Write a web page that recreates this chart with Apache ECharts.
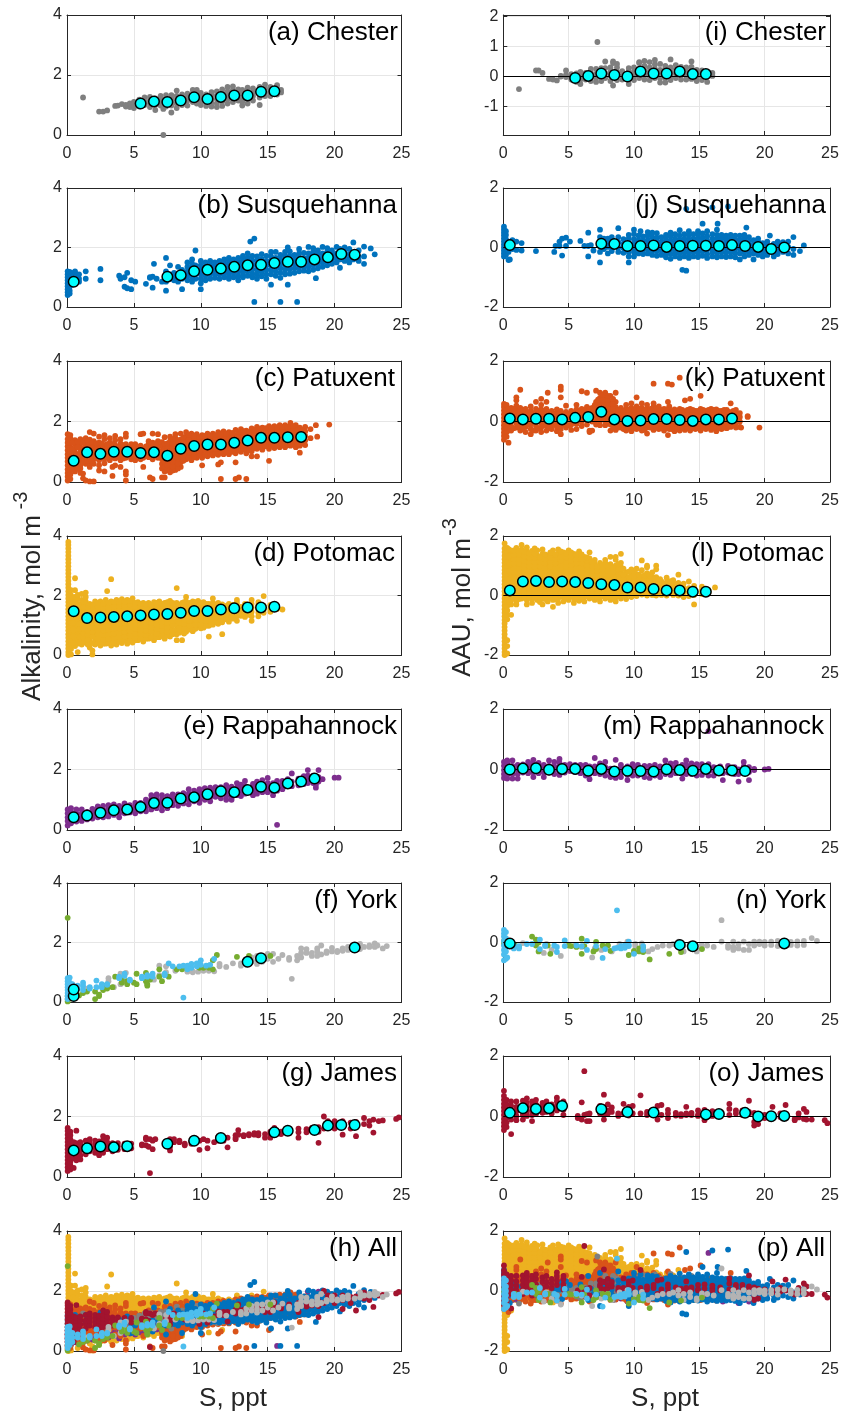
<!DOCTYPE html>
<html><head><meta charset="utf-8">
<style>html,body{margin:0;padding:0;background:#fff}#c{width:843px;height:1414px}</style>
<script src="https://cdn.jsdelivr.net/npm/echarts@6/dist/echarts.min.js"></script></head>
<body><div id="c"></div>
<script>
// Each row: [salinity, [values read at that salinity]]
const chesterAlk=[[1.2,[1.25]],[2.4,[.78]],[2.7,[.78]],[3,[.82]],[3.6,[.97]],[3.8,[.98]],[4.1,[1.03]],[4.4,[.95,1]],[4.7,[.93,1.02,1.05]],[5,[.9,1,1.1]],[5.4,[.95,1.07,1.18]],[5.8,[1,1.1,1.25]],[6.2,[.93,1.05,1.15,1.27]],[6.6,[.83,1,1.12,1.22]],[7,[.98,1.1,1.2,1.3]],[7.2,[0,.87,1.05]],[7.4,[.95,1.08,1.2,1.33]],[7.8,[.75,.98,1.1,1.22,1.33]],[8.2,[.9,1.05,1.17,1.3,1.48]],[8.6,[1,1.12,1.25,1.35]],[9,[.98,1.15,1.27,1.38]],[9.4,[1.1,1.22,1.35,1.5]],[9.7,[1.05,1.2,1.32,1.5]],[10,[1,1.15,1.28,1.4]],[10.4,[.97,1.1,1.22,1.35]],[10.8,[.95,1.08,1.2,1.33,1.43]],[11.2,[.93,1.05,1.2,1.32,1.45]],[11.6,[.97,1.12,1.25,1.4,1.52]],[12,[1.05,1.2,1.33,1.45,1.6]],[12.4,[1.1,1.22,1.36,1.5,1.62]],[12.8,[1.15,1.28,1.4,1.52]],[13.1,[.98,1.1,1.25,1.38,1.5]],[13.5,[1.05,1.2,1.35,1.48,1.58]],[13.9,[1.15,1.3,1.42,1.55]],[14.4,[1.0,1.25,1.37,1.5,1.6]],[14.8,[1.3,1.42,1.55,1.68]],[15.2,[1.3,1.42,1.52,1.6]],[15.7,[1.35,1.45,1.55,1.66]],[16,[1.42,1.5]]];
const chesterAau=[[1.2,[-.42]],[2.5,[.2]],[2.7,[.2]],[3,[.12]],[3.5,[-.08]],[3.8,[-.1]],[4.1,[-.13]],[4.4,[0,.02]],[4.8,[-.02,.05,.2]],[5.2,[-.1,0,.08]],[5.6,[-.18,-.05,.05,.1]],[5.9,[-.25,-.1,.02,.15]],[6.3,[-.1,.02,.12]],[6.7,[-.15,0,.12,.25]],[7.1,[-.18,-.05,.08,.25]],[7.2,[1.15]],[7.5,[-.15,-.02,.1,.28]],[7.8,[-.05,.1,.5,.28]],[8.2,[-.15,.02,.15,.3]],[8.4,[-.3,.45,.5]],[8.7,[-.12,0,.15,.3,.42]],[9.1,[-.1,.03,.18]],[9.6,[-.25,-.1,.05,.18,.28]],[10,[-.12,0,.15,.3]],[10.4,[-.05,.1,.25,.45,.48]],[10.8,[-.1,.05,.2,.35,.52]],[11.2,[-.12,.02,.15,.3,.48]],[11.6,[-.05,.1,.25,.4,.55]],[12,[-.2,-.05,.08,.22,.42]],[12.4,[-.2,-.05,.1,.25,.35]],[12.8,[-.12,.02,.15,.3,.57]],[13.2,[-.05,.1,.25,.38]],[13.6,[-.1,.05,.18,.32]],[14,[-.1,.03,.15,.3]],[14.4,[-.08,.05,.18,.32,.5]],[14.8,[-.15,0,.1,.22]],[15.2,[-.12,0,.1,.2]],[15.6,[-.18,0,.12]],[16,[.02,.12]]];
const chesterMeanS=[5.5,6.5,7.5,8.5,9.5,10.5,11.5,12.5,13.5,14.5,15.5];
const chesterMeanAlk=[1.05,1.12,1.1,1.15,1.26,1.2,1.27,1.32,1.32,1.44,1.46];
const chesterMeanAau=[-.05,.02,.1,.05,0,.17,.1,.1,.17,.08,.08];

const susqAlk=[[.05,[.4,.5,.6,.7,.8,.9,1,1.1,1.2]],[.2,[.45,.55,.68,.8,.92,1.05,1.18]],[.35,[.75,.9,1.02,1.15]],[.6,[.85,1.05,1.2]],[.9,[.85,.95,1.1]],[1.4,[.95,1.2]],[2.5,[.9,1.28]],[3.9,[1.05]],[4,[.95]],[4.3,[1,.68]],[4.5,[.63,1.15]],[4.8,[.9,.6]],[5.1,[.85]],[5.9,[.78]],[6.2,[1,.98]],[6.4,[.65,1.02]],[6.5,[1.45]],[6.7,[.95]],[7.1,[.85]],[7.4,[.85,.55,1.2,1.65]],[7.7,[.95,1.1,1.4]],[8,[.9,1,1.15]],[8.3,[.85,1,1.1,1.35]],[8.6,[.6,.95,1.1,1.25]],[9,[.9,1.05,1.2,1.35,1.5]],[9.35,[.85,1,1.15,1.3,1.45,1.6]],[9.6,[.95,1.1,1.25,1.4,1.9]],[10,[.6,.8,.95,1.1,1.25,1.4,1.55]],[10.35,[.9,1.05,1.2,1.35,1.5]],[10.7,[.95,1.1,1.25,1.4,1.55]],[11.05,[.98,1.12,1.27,1.4,1.5]],[11.4,[.95,1.1,1.25,1.4,1.55]],[11.75,[1,1.15,1.3,1.45,1.6]],[12.1,[.95,1.08,1.22,1.37,1.52,1.65]],[12.45,[1,1.15,1.3,1.45,1.6]],[12.8,[.9,1.05,1.2,1.35,1.5,1.65]],[13.15,[1,1.15,1.28,1.42,1.57,1.72]],[13.5,[1.05,1.2,1.35,1.5,1.65,1.8]],[13.7,[2.2]],[14,[.17,2.3]],[13.85,[1,1.12,1.27,1.42,1.57,1.72]],[14.2,[.95,1.1,1.25,1.4,1.55,1.7]],[14.55,[1.03,1.18,1.33,1.48,1.62,1.78]],[14.9,[.95,1.1,1.25,1.4,1.55,1.72]],[15.25,[.75,1.1,1.25,1.4,1.55,1.7,1.85]],[15.6,[1.05,1.2,1.35,1.5,1.65,1.85]],[15.95,[.17,.98,1.15,1.3,1.45,1.6,1.75]],[16.3,[1.1,1.25,1.4,1.55,1.7,1.85]],[16.5,[.75,2]],[16.65,[1.12,1.27,1.42,1.57,1.72,1.87]],[17,[1.15,1.3,1.45,1.6,1.75]],[17.2,[.17]],[17.35,[1.2,1.35,1.5,1.65,1.8,1.95]],[17.7,[1.22,1.35,1.5,1.65,1.82]],[18.05,[1.2,1.35,1.5,1.65,1.8,2.02]],[18.4,[1.25,1.4,1.55,1.7,1.85,1.98]],[18.6,[.97]],[18.75,[1.3,1.45,1.6,1.75,1.9]],[19.1,[1.35,1.5,1.65,1.8,2.02]],[19.45,[1.4,1.55,1.7,1.85,1.98]],[19.8,[1.45,1.6,1.75,1.9]],[20.15,[1.5,1.65,1.8,2.02]],[20.4,[1.32,1.6,1.95]],[20.75,[1.55,1.7,1.85,2]],[21.1,[1.5,1.62,1.77,1.95]],[21.4,[1.6,1.75,2.17]],[21.8,[1.55,1.68,1.9]],[22.2,[1.45,1.7,2.03]],[22.7,[1.97]],[23,[1.77]]];
const susqAau=[[.05,[-.3,-.2,-.1,0,.1,.2,.3,.4,.5,.6,.7]],[.2,[-.25,-.12,.02,.15,.28,.42,.55]],[.4,[-.42,-.15,.05,.2]],[.5,[-.4]],[.7,[-.05,.1,.25]],[1,[-.08,.2]],[1.4,[.15,-.1]],[2.5,[-.12]],[3.9,[-.15]],[4,[.05]],[4.3,[.2,.05]],[4.5,[.3,-.27]],[4.8,[.33,.05]],[5.1,[.2]],[5.9,[.22]],[6.2,[.05]],[6.5,[.5,-.3,.05]],[6.7,[.08]],[6.9,[-.1]],[7.4,[.6,.35,.18,-.15,-.5]],[7.7,[-.05,.1,.25,.3]],[8,[.02,.18,.3,-.2]],[8.3,[-.12,.05,.2,.35]],[8.8,[.65,.35,.18,0,-.15]],[9.2,[-.18,-.02,.12,.28]],[9.6,[-.5,-.3,-.15,0,.15,.3,.42]],[10,[-.3,-.15,0,.13,.28,.45,.6]],[10.35,[-.2,-.05,.1,.25,.4]],[10.5,[.55]],[10.7,[-.22,-.08,.07,.22,.37]],[11.05,[-.2,-.05,.1,.25,.4,.52]],[11.4,[-.25,-.1,.05,.2,.35,.5]],[11.75,[-.28,-.13,.02,.17,.32,.48]],[12.1,[-.25,-.1,.05,.2,.35]],[12.45,[-.33,-.18,-.03,.12,.27,.42]],[12.8,[-.38,-.22,-.07,.08,.23,.38,.5]],[13.15,[-.3,-.15,0,.15,.3,.45]],[13.5,[-.35,-.2,-.05,.1,.25,.4,.58]],[13.7,[-.75]],[14,[-.78,1.3]],[13.85,[-.3,-.15,0,.15,.3,.45]],[14.2,[-.35,-.2,-.05,.1,.25,.4,.55]],[14.55,[-.3,-.15,0,.15,.3,.45]],[14.9,[-.32,-.18,-.03,.12,.27,.42,.55]],[15.25,[-.28,-.13,.02,.17,.32,.47,.8]],[15.6,[-.35,-.22,-.07,.08,.23,.38,.55]],[16,[-.3,-.15,0,.15,.3,.45,1.35]],[16.35,[-.33,-.18,-.03,.12,.27,.42,.6]],[16.4,[.8]],[16.7,[-.3,-.15,0,.15,.3,.42]],[17.05,[-.32,-.17,-.02,.13,.28,.4]],[17.2,[1.38]],[17.4,[-.3,-.15,0,.15,.3,.42]],[17.75,[-.33,-.18,-.03,.12,.27,.4]],[18.1,[-.4,-.2,-.05,.1,.25,.4]],[18.45,[-.3,-.15,0,.15,.3,.42]],[18.6,[.67]],[18.8,[-.25,-.1,.05,.2,.35]],[19.15,[-.4,-.2,-.05,.1,.25]],[19.5,[-.25,-.1,.05,.2,.3]],[19.85,[-.3,-.15,0,.15]],[20.2,[-.25,-.1,.05,.2]],[20.4,[.4]],[20.7,[-.3,-.15,-.02,.12]],[21,[-.22,-.08,.1,.2]],[21.4,[-.15,.05,.18]],[21.8,[-.2,.02,.2]],[22.2,[-.25,-.05,.35]],[22.7,[-.12]],[23,[.07]]];
const susqMeanS=[.5,7.5,8.5,9.5,10.5,11.5,12.5,13.5,14.5,15.5,16.5,17.5,18.5,19.5,20.5,21.5];
const susqMeanAlk=[.85,1.02,1.07,1.2,1.25,1.29,1.35,1.4,1.42,1.48,1.52,1.52,1.6,1.67,1.78,1.76];
const susqMeanAau=[.08,.13,.12,.05,.05,.07,.02,.05,.06,.06,.05,.08,.05,.02,-.05,0];

const patuxAlk=[[.05,[.05,.18,.3,.42,.55,.68,.8,.92,1.05,1.18,1.3,1.42,1.58]],[.25,[.1,.25,.4,.55,.7,.85,1,1.15,1.3,1.45,1.55]],[.6,[.35,.5,.65,.8,.95,1.1,1.25,1.38]],[1,[.3,.45,.55,.7,.85,1,1.15,1.3,1.42]],[1.2,[.28,.12]],[1.4,[.05,.6,.75,.9,1.05,1.2,1.35,1.45]],[1.7,[.02,.5,.65,.8,.95,1.1,1.25,1.4,1.65]],[2,[.02,.6,.75,.9,1.05,1.2,1.35,1.6]],[2.4,[.38,.55,.72,.88,1.03,1.18,1.3,1.5]],[2.8,[.35,.62,.78,.92,1.08,1.22,1.42,1.55]],[3.2,[.72,.88,1.02,1.18,1.3,1.45]],[3.4,[.2,.5]],[3.6,[.55,.78,.92,1.08,1.22,1.38,1.52]],[4,[.5,.72,.85,1,1.15,1.28,1.42]],[4.4,[.05,.35,.25,.8,.95,1.1,1.25,1.6,1.5]],[4.8,[.75,.88,1.02,1.18,1.25]],[5.1,[.72,.85,1,1.12,1.25]],[5.5,[.75,.9,1.05,1.2,1.58]],[5.7,[.5,.8,.95,1.1,1.6]],[6.1,[.82,.95,1.08,1.25,1.35]],[6.2,[.15]],[6.4,[.1,.75,.88,1,1.15,1.3,1.6]],[6.8,[.8,.92,1.05,1.2,1.35,1.58]],[7.1,[.15,.45,.6,.75,.9,1.02,1.18,1.32]],[7.3,[.15,.35,.5,.65,.8,.95,1.1,1.25,1.48]],[7.7,[.32,.45,.6,.75,.9,1.05,1.2,1.35,1.5]],[8.1,[.4,.55,.7,.85,1,1.15,1.3,1.45,1.58]],[8.5,[.5,.65,.8,.95,1.1,1.25,1.4,1.6]],[8.9,[.75,.9,1.05,1.2,1.35,1.5,1.65]],[9.3,[.72,.88,1,1.15,1.3,1.45,1.6]],[9.7,[.8,.95,1.1,1.25,1.4,1.58]],[10.1,[.55,.8,.92,1.08,1.22,1.37,1.55]],[10.5,[.85,1,1.15,1.3,1.45,1.6]],[10.9,[.88,1.02,1.18,1.32,1.47,1.6]],[11.3,[.58,.9,1.05,1.2,1.35,1.5,1.65]],[11.5,[.1,.65]],[11.7,[.92,1.07,1.22,1.37,1.52,1.67]],[12.1,[.92,1.05,1.2,1.35,1.5,1.65]],[12.6,[.1,.65,.95,1.1,1.25,1.4,1.55,1.72]],[12.85,[.15]],[13,[1,1.15,1.3,1.45,1.6,1.75]],[13.4,[.1,.95,1.1,1.25,1.4,1.55,1.7]],[13.8,[.85,1.02,1.17,1.32,1.47,1.62,1.77]],[14.2,[.85,1.1,1.25,1.4,1.55,1.7,1.82]],[14.6,[1.07,1.22,1.37,1.52,1.67,1.8]],[15.1,[.7,1.1,1.25,1.4,1.55,1.7,1.85]],[15.5,[1.12,1.27,1.42,1.57,1.72,1.85]],[15.9,[1.15,1.3,1.45,1.6,1.75,1.88]],[16.3,[1.15,1.3,1.45,1.6,1.75,1.88]],[16.7,[1.2,1.35,1.5,1.65,1.8,1.95]],[17.1,[1.15,1.3,1.45,1.6,1.75,1.88]],[17.4,[.97,1.2,1.35,1.5,1.65,1.8]],[17.8,[1.22,1.37,1.52,1.67,1.82]],[18.2,[1.45,1.75]],[18.6,[1.88]],[18.7,[1.5]],[19.6,[1.9]]];
const patuxAlkDense=[[.4,[.4,.62,.85,1.08,1.3]],[.8,[.45,.7,.92,1.15,1.33]],[1.2,[.65,.85,1.1,1.3]],[1.55,[.7,.95,1.15,1.35]],[1.85,[.7,.88,1.12,1.32]],[2.2,[.8,.98,1.12,1.28]],[2.6,[.8,.98,1.15,1.28]],[3,[.8,.98,1.12,1.25]],[3.4,[.82,1,1.15,1.25]],[3.8,[.82,.98,1.15]],[4.2,[.78,.92,1.08,1.22]],[4.6,[.85,1,1.15]],[5,[.8,.95,1.1]],[5.3,[.82,.98,1.12]],[5.9,[.88,1.02,1.18]],[6.3,[.82,.95,1.12,1.25]],[6.6,[.85,1,1.12,1.28]],[7.5,[.4,.55,.7,.85,1,1.12,1.28]],[7.9,[.38,.52,.68,.82,.98,1.12,1.28,1.42]],[8.3,[.45,.62,.78,.92,1.08,1.22,1.38]],[8.7,[.7,.88,1.02,1.18,1.32,1.48]],[9.1,[.8,.98,1.12,1.28,1.42,1.55]],[9.5,[.82,.98,1.08,1.22,1.38,1.52]],[9.9,[.88,1.02,1.18,1.32,1.48]],[10.3,[.9,1.08,1.22,1.38,1.52]],[10.7,[.92,1.08,1.22,1.38,1.52]],[11.1,[.95,1.1,1.25,1.4,1.55]],[11.5,[.98,1.12,1.28,1.42,1.58]],[11.9,[1,1.15,1.28,1.45,1.6]],[12.35,[1,1.18,1.32,1.47,1.62]],[12.8,[1.05,1.2,1.35,1.5,1.65]],[13.2,[1.08,1.22,1.38,1.52,1.68]],[13.6,[1.05,1.2,1.35,1.5,1.65]],[14,[1.12,1.28,1.42,1.58,1.72]],[14.4,[1.15,1.3,1.45,1.6,1.75]],[14.85,[1.18,1.32,1.48,1.62,1.78]],[15.3,[1.2,1.35,1.5,1.65,1.78]],[15.7,[1.2,1.35,1.5,1.65,1.8]],[16.1,[1.22,1.38,1.52,1.68,1.82]],[16.5,[1.22,1.38,1.52,1.68,1.82]],[16.9,[1.25,1.4,1.55,1.7,1.85]],[17.25,[1.25,1.42,1.58,1.72]],[17.6,[1.28,1.42,1.58,1.72]]];
const patuxAau=[[.05,[-.6,-.48,-.36,-.24,-.12,0,.12,.24,.36,.48,.58]],[.25,[-.5,-.35,-.2,-.05,.1,.25,.4,.55]],[.4,[-.7]],[.6,[-.3,-.15,0,.15,.3,.45]],[1,[-.2,-.05,.1,.25,.4,.52,.7,.8]],[1.3,[-.3,-.15,0,.15,.3,.45,1.05]],[1.7,[-.35,-.18,-.03,.12,.27,.42]],[2.1,[-.42,-.25,-.1,.05,.2,.35,.5]],[2.5,[-.3,-.15,0,.15,.3,.42,.65]],[2.9,[-.35,-.2,-.05,.1,.25,.4,.55,.75]],[3.3,[-.3,-.15,0,.15,.3,.42,.65]],[3.4,[.95]],[3.7,[-.25,-.1,.05,.2,.35]],[4.1,[-.32,-.17,-.02,.13,.28,.4]],[4.4,[-.42,-.25,-.1,.05,.2,.35,.8,1.15,1.05]],[4.8,[-.2,.02,.17,.32,.52]],[5.2,[-.28,-.1,.05,.2,.35]],[5.6,[-.25,-.08,.07,.22,.4,.55]],[6,[-.15,0,.15,.3,.42,1]],[6.4,[-.1,.05,.2,.35,.48,.95]],[6.6,[-.35,-.3]],[6.8,[-.3,0,.15,.3,.45]],[7.1,[-.1,.05,.2,.35,.5,.65,1.02]],[7.4,[-.12,.02,.17,.32,.47,.62,.78,.95]],[7.8,[-.12,.03,.18,.33,.48,.63,.8,.95,.9]],[8.2,[-.3,-.1,.05,.2,.35,.5,.65,.85]],[8.6,[-.28,-.12,.03,.18,.33,.48,.65,.95]],[9,[-.2,-.05,.1,.25,.4,.45]],[9.4,[-.3,-.15,0,.15,.3,.42,.55]],[9.8,[-.32,-.17,-.02,.13,.28,.45,.6]],[10.2,[-.25,-.1,.05,.2,.35,.5,.8]],[10.6,[-.3,-.15,0,.15,.3,.45,.6]],[11,[-.4,-.2,-.05,.1,.25,.4,.55]],[11.5,[-.28,-.13,.02,.17,.32,.5,.6,1.25]],[11.9,[-.25,-.1,.05,.2,.35,.5]],[12.3,[-.3,-.15,0,.15,.3,.42]],[12.6,[-.45,1.25,.65]],[12.7,[-.25,-.1,.05,.2,.35,.5]],[12.9,[1.22]],[13.1,[-.32,-.17,-.02,.13,.28,.4]],[13.5,[-.3,-.15,0,.15,.3,.42,1.45]],[13.9,[-.28,-.13,.02,.17,.32,.7]],[14.3,[-.3,-.15,0,.15,.3,.42,.75]],[14.7,[-.25,-.1,.05,.2,.35]],[15.1,[-.3,-.15,0,.15,.3,.42,.85]],[15.5,[-.25,-.1,.05,.2,.35]],[15.9,[-.28,-.13,.02,.17,.32,.42]],[16.3,[-.32,-.17,-.02,.13,.28,.4]],[16.7,[-.25,-.1,.05,.2,.35]],[17.1,[-.22,-.07,.08,.23,.38]],[17.4,[-.18,0,.15,.3,.6]],[17.8,[-.2,-.05,.1,.25,.38]],[18.1,[-.18,0,.15,.28]],[18.7,[.15,.18]],[18.2,[-.2]],[19.6,[-.2]]];
const patuxAauDense=[[.4,[-.3,-.05,.2,.42]],[.8,[-.22,.05,.28,.42]],[1.15,[-.12,.08,.3]],[1.5,[-.22,.05,.22,.38]],[1.9,[-.1,.1,.3]],[2.3,[-.3,-.02,.15,.28]],[2.7,[-.22,.07,.22,.35]],[3.1,[-.1,.08,.22,.35]],[3.5,[-.22,.08,.22]],[3.9,[-.1,.1,.25]],[4.25,[-.15,.08,.25]],[4.6,[-.1,.1,.25]],[5,[-.12,.1,.25]],[5.4,[-.02,.12,.28]],[5.8,[.02,.15,.3]],[6.2,[.08,.22,.38]],[6.6,[.08,.25,.42]],[7,[.05,.22,.4,.55]],[7.25,[.08,.28,.42,.72]],[7.6,[.1,.25,.4,.55,.72,.88]],[8,[-.02,.12,.28,.42,.58,.72,.85]],[8.4,[-.18,-.02,.12,.28,.42,.58,.75]],[8.8,[-.2,-.05,.1,.25,.38]],[9.2,[-.25,-.1,.05,.22,.35]],[9.6,[-.22,-.08,.08,.22,.38]],[10,[-.22,-.08,.07,.22,.38]],[10.4,[-.2,-.05,.1,.25,.42]],[10.8,[-.28,-.1,.07,.22,.38]],[11.25,[-.2,-.05,.1,.25,.42]],[11.7,[-.2,-.05,.1,.25,.42]],[12.1,[-.22,-.08,.08,.25,.38]],[12.5,[-.22,-.08,.08,.25,.4]],[12.9,[-.25,-.1,.05,.2,.35]],[13.3,[-.22,-.08,.08,.22,.35]],[13.7,[-.22,-.08,.08,.25,.38]],[14.1,[-.22,-.08,.08,.22,.38]],[14.5,[-.22,-.08,.08,.25,.38]],[14.9,[-.22,-.08,.08,.22,.35]],[15.3,[-.2,-.05,.1,.25,.38]],[15.7,[-.2,-.05,.1,.25,.38]],[16.1,[-.22,-.05,.1,.25,.38]],[16.5,[-.22,-.08,.08,.22,.35]],[16.9,[-.2,-.05,.1,.28,.38]],[17.25,[-.15,.02,.18,.32]],[17.6,[-.12,.05,.2,.35]]];
const patuxMeanS=[.5,1.5,2.5,3.5,4.5,5.5,6.5,7.5,8.5,9.5,10.5,11.5,12.5,13.5,14.5,15.5,16.5,17.5];
const patuxMeanAlk=[.7,.98,.93,1,1,.96,.98,.87,1.1,1.19,1.24,1.24,1.3,1.37,1.46,1.46,1.48,1.49];
const patuxMeanAau=[.1,.07,.09,.09,.07,.12,.15,.32,.07,.02,.03,.08,.08,.05,.02,.07,.07,.1];

const potoAlk=[[.1,[0,.1,.22,.34,.46,.58,.7,.82,.94,1.06,1.18,1.3,1.42,1.54,1.66,1.78,1.9,2.02,2.14,2.26,2.38,2.5,2.62,2.74,2.86,2.98,3.1,3.22,3.34,3.46,3.58,3.7,3.8]],[.3,[.02,.2,.35,.5,.65,.8,.95,1.1,1.25,1.4,1.55,1.7,1.85,2,2.18]],[.6,[.3,.45,.6,.75,.9,1.05,1.2,1.35,1.5,1.65,1.8,1.95,2.18,2.58]],[.8,[.1,.38,.52,.68,.82,.98,1.12,1.28,1.42,1.58,1.72,1.88,2.02]],[1.1,[.35,.5,.65,.8,.95,1.1,1.25,1.4,1.55,1.7,1.85,2.05]],[1.4,[.45,.6,.75,.9,1.05,1.2,1.35,1.5,1.65,1.8,1.95,2.1]],[1.7,[.25,.4,.55,.7,.85,1,1.15,1.3,1.45,1.6,1.72]],[1.9,[.02,.15]],[2.1,[.35,.48,.62,.78,.92,1.08,1.22,1.38,1.52,1.68,1.8]],[2.5,[.32,.45,.6,.75,.9,1.05,1.2,1.35,1.5,1.65,1.8]],[2.9,[.38,.52,.68,.82,.98,1.12,1.28,1.42,1.58,1.72,1.85]],[3.3,[.32,.48,.62,.78,.92,1.08,1.22,1.38,1.52,1.68,1.8,2.55]],[3,[2.15]],[3.7,[.35,.5,.65,.8,.95,1.1,1.25,1.4,1.55,1.7,1.85]],[4.1,[.4,.55,.7,.85,1,1.15,1.3,1.45,1.6,1.75,1.88]],[4.5,[.38,.52,.68,.82,.98,1.12,1.28,1.42,1.58,1.72,1.85]],[4.9,[.42,.58,.72,.88,1.02,1.18,1.32,1.48,1.62,1.78,1.9]],[5.3,[.5,.65,.8,.95,1.1,1.25,1.4,1.55,1.7,1.78]],[5.7,[.45,.6,.75,.9,1.05,1.2,1.35,1.5,1.65,1.75]],[6.1,[.55,.7,.85,1,1.15,1.3,1.45,1.6,1.75]],[6.5,[.5,.65,.8,.95,1.1,1.25,1.4,1.55,1.7,1.78]],[6.9,[.6,.75,.9,1.05,1.2,1.35,1.5,1.65,1.8]],[7.3,[.55,.7,.85,1,1.15,1.3,1.45,1.6,1.75]],[7.7,[.62,.78,.92,1.08,1.22,1.38,1.52,1.68,1.82]],[8.2,[.5,.7,.85,1,1.15,1.3,1.45,1.6,1.75,2.25]],[8.6,[.5,.85,1,1.15,1.3,1.45,1.6,1.75]],[8.9,[1.95,.78,.92,1.08,1.22,1.38,1.52,1.68,1.8]],[9.4,[.8,.95,1.1,1.25,1.4,1.55,1.7,1.8]],[9.8,[.95,1.1,1.25,1.4,1.55,1.7,1.82]],[10.2,[.92,1.08,1.22,1.38,1.52,1.68,1.78]],[10.6,[.62,.98,1.12,1.28,1.42,1.58,1.72]],[10.9,[1.02,1.18,1.32,1.48,1.62,1.75,1.9]],[11.3,[1.05,1.2,1.35,1.5,1.65,1.75]],[11.6,[.7,1.1,1.25,1.4,1.55,1.7]],[12.1,[1.12,1.28,1.42,1.58,1.72]],[12.7,[1.15,1.3,1.45,1.6,1.75,1.85]],[13.3,[1.28,1.42,1.58,1.72]],[13.8,[1.15,1.3,1.45,1.6,1.72,1.85]],[14.3,[1.3,1.42,1.55,1.68,1.78]],[14.7,[1.98,1.42,1.55,1.65]],[15.2,[1.45,1.55,1.68]],[15.7,[1.55,1.65]],[16.1,[1.53]]];
const potoAlkDense=[[.45,[.4,.62,.85,1.08,1.3,1.55,1.78]],[.95,[.42,.6,.88,1.05,1.35,1.62]],[1.25,[.42,.58,.72,.88,1.02,1.18,1.32,1.48,1.62,1.78]],[1.55,[.35,.52,.68,.82,.98,1.12,1.28,1.42,1.58]],[1.9,[.4,.62,.78,.92,1.08,1.22,1.38,1.52,1.68]],[2.3,[.4,.55,.7,.85,1,1.15,1.3,1.45,1.6,1.75]],[2.7,[.38,.52,.68,.82,.98,1.12,1.28,1.42,1.58,1.72]],[3.1,[.4,.55,.7,.85,1,1.15,1.3,1.45,1.6,1.75]],[3.5,[.42,.58,.72,.88,1.02,1.18,1.32,1.48,1.62,1.78]],[3.9,[.45,.6,.75,.9,1.05,1.2,1.35,1.5,1.65,1.78]],[4.3,[.48,.62,.78,.92,1.08,1.22,1.38,1.52,1.68,1.8]],[4.7,[.48,.65,.8,.95,1.1,1.25,1.4,1.55,1.7,1.82]],[5.1,[.5,.58,.72,.88,1.02,1.18,1.32,1.48,1.62,1.75]],[5.5,[.55,.7,.85,1,1.15,1.3,1.45,1.6,1.72]],[5.9,[.55,.68,.82,.98,1.12,1.28,1.42,1.58,1.7]],[6.3,[.6,.78,.92,1.08,1.22,1.38,1.52,1.68]],[6.7,[.6,.72,.88,1.02,1.18,1.32,1.48,1.62,1.75]],[7.1,[.65,.82,.98,1.12,1.28,1.42,1.58,1.72]],[7.5,[.65,.78,.92,1.08,1.22,1.38,1.52,1.68,1.78]],[7.9,[.7,.85,1,1.15,1.3,1.45,1.6,1.75]],[8.4,[.75,.92,1.08,1.22,1.38,1.52,1.68]],[8.75,[.72,.88,1.05,1.2,1.35,1.5,1.65,1.78]],[9.15,[.85,1,1.15,1.3,1.45,1.6,1.75]],[9.6,[.88,1.02,1.18,1.32,1.48,1.62,1.78]],[10,[.9,1.02,1.18,1.32,1.48,1.62,1.75]],[10.4,[.98,1.15,1.3,1.45,1.6,1.72]],[10.75,[1.05,1.2,1.35,1.5,1.65]],[11.1,[1.1,1.25,1.4,1.55,1.7]],[11.5,[1.18,1.32,1.48,1.62]],[11.9,[1.2,1.35,1.5,1.65]],[12.4,[1.22,1.38,1.52,1.68]],[13,[1.32,1.48,1.62]],[13.55,[1.35,1.5,1.65]]];
const potoAau=[[.1,[-2,-1.9,-1.78,-1.66,-1.54,-1.42,-1.3,-1.18,-1.06,-.94,-.82,-.7,-.58,-.46,-.34,-.22,-.1,.02,.14,.26,.38,.5,.62,.74,.86,.98,1.1,1.22,1.34,1.46,1.58,1.75]],[.3,[-1.95,-1.7,-1.5,-.8,-.65,-.5,-.35,-.2,-.05,.1,.25,.4,.55,.7,.85,1,1.15,1.3,1.45,1.6]],[.6,[-.65,-.3,-.15,0,.15,.3,.45,.6,.75,.9,1.05,1.2,1.35,1.5]],[1,[-.3,-.2,-.05,.1,.25,.4,.55,.7,.85,1,1.15,1.3,1.45,1.6]],[1.4,[-.1,.05,.2,.35,.5,.65,.8,.95,1.1,1.25,1.4,1.55,1.7]],[1.8,[-.3,-.15,0,.15,.3,.45,.6,.75,.9,1.05,1.2,1.35,1.5,1.62]],[2.2,[-.25,-.1,.05,.2,.35,.5,.65,.8,.95,1.1,1.25,1.4,1.5]],[2.6,[-.15,0,.15,.3,.45,.6,.75,.9,1.05,1.2,1.35,1.52]],[3,[-.3,-.1,.05,.2,.35,.5,.65,.8,.95,1.1,1.25,1.4,1.55]],[3.4,[-.2,-.05,.1,.25,.4,.55,.7,.85,1,1.15,1.3,1.35]],[3.8,[-.38,-.15,0,.15,.3,.45,.6,.75,.9,1.05,1.2,1.35,1.52]],[4.2,[-.25,-.1,.05,.2,.35,.5,.65,.8,.95,1.1,1.25,1.4,1.55]],[4.6,[-.2,-.05,.1,.25,.4,.55,.7,.85,1,1.15,1.3,1.45]],[5,[-.15,0,.15,.3,.45,.6,.75,.9,1.05,1.2,1.35,1.52]],[5.4,[-.25,-.1,.05,.2,.35,.5,.65,.8,.95,1.1,1.25,1.4]],[5.8,[-.18,-.03,.12,.27,.42,.57,.72,.87,1.02,1.17,1.32,1.48]],[6.2,[-.2,-.05,.1,.25,.4,.55,.7,.85,1,1.15,1.3]],[6.6,[-.1,.05,.2,.35,.5,.65,.8,.95,1.1,1.25,1.45]],[7,[-.15,0,.15,.3,.45,.6,.75,.9,1.05,1.2]],[7.4,[-.2,-.05,.1,.25,.4,.55,.7,.85,1,1.1]],[7.8,[-.1,.05,.2,.35,.5,.65,.8,.95,1.1,1.2]],[8.2,[-.15,0,.15,.3,.45,.6,.75,.9,1.05,1.3]],[8.6,[-.2,-.05,.1,.25,.4,.55,.7,.85,1,1.2,1.3]],[9,[-.1,.05,.2,.35,.5,.65,.8,.95,1.1,1.4]],[9.4,[-.12,.02,.17,.32,.47,.62,.78]],[9.8,[-.05,.1,.25,.4,.55,.7,.88]],[10.2,[-.02,.13,.28,.43,.58,.72,.9]],[10.6,[.03,.18,.33,.48,.62,.85,1.18]],[11,[0,.15,.3,.45,.6,.75,.95,1]],[11.4,[.02,.17,.32,.47,.62,.78]],[11.7,[0,.15,.3,.45,.62,.88,1]],[12.1,[.02,.17,.32,.47]],[12.5,[0,.15,.3,.45,.6]],[13,[.02,.15,.3,.42,.52]],[13.4,[0,.12,.28,.42,.7]],[13.8,[-.05,.1,.25,.4]],[14.2,[-.02,.12,.25,.47]],[14.6,[-.3,.02,.15,.32]],[15.2,[.05,.18,.3]],[15.7,[.1,.18]],[16.2,[.27]]];
const potoAauDense=[[.45,[-.2,.05,.3,.55,.82,1.08,1.32,1.55]],[.8,[-.1,.12,.32,.48,.62,.78,.92,1.08,1.22,1.38,1.52]],[1.2,[-.12,.02,.18,.32,.48,.62,.78,.92,1.08,1.22,1.38,1.5]],[1.6,[-.02,.12,.28,.42,.58,.72,.88,1.02,1.18,1.32,1.48]],[2,[-.08,.08,.22,.38,.52,.68,.82,.98,1.12,1.28,1.42]],[2.4,[-.08,.08,.22,.38,.52,.68,.82,.98,1.12,1.28,1.42,1.58]],[2.8,[-.22,-.08,.08,.22,.38,.52,.68,.82,.98,1.12,1.28]],[3.2,[-.12,.02,.18,.32,.48,.62,.78,.92,1.08,1.22,1.38]],[3.6,[-.08,.08,.22,.38,.52,.68,.82,.98,1.12,1.28,1.45]],[4,[-.12,.02,.18,.32,.48,.62,.78,.92,1.08,1.22,1.38]],[4.4,[-.02,.12,.28,.42,.58,.72,.88,1.02,1.18,1.32,1.48]],[4.8,[-.08,.08,.22,.38,.52,.68,.82,.98,1.12,1.28,1.42]],[5.2,[-.02,.12,.28,.42,.58,.72,.88,1.02,1.18,1.32,1.45]],[5.6,[-.12,.02,.18,.32,.48,.62,.78,.92,1.08,1.22,1.38]],[6,[-.12,.02,.18,.32,.48,.62,.78,.92,1.08,1.22,1.38]],[6.4,[-.02,.12,.28,.42,.58,.72,.88,1.02,1.18,1.28]],[6.8,[-.05,.08,.22,.38,.52,.68,.82,.98,1.12]],[7.2,[-.08,.08,.22,.38,.52,.68,.82,.98]],[7.6,[-.02,.12,.28,.42,.58,.72,.88,1.02]],[8,[-.05,.08,.22,.38,.52,.68,.82,.98]],[8.4,[-.08,.02,.18,.32,.48,.62,.78,.92]],[8.8,[-.02,.12,.28,.42,.58,.72,.88,1.05]],[9.2,[0,.1,.25,.4,.55,.7,.9]],[9.6,[.03,.18,.32,.48,.62,.8]],[10,[.02,.18,.32,.48,.65,.8]],[10.4,[.08,.25,.4,.55,.7]],[10.8,[.08,.22,.38,.52,.68]],[11.2,[.08,.25,.4,.55,.68]],[11.6,[.08,.22,.38,.55]],[12,[.1,.25,.4,.55]],[12.4,[.08,.22,.38]],[12.8,[.08,.22,.38,.48]],[13.2,[.08,.22,.35]],[13.6,[.03,.18,.35]]];
const potoMeanS=[.5,1.5,2.5,3.5,4.5,5.5,6.5,7.5,8.5,9.5,10.5,11.5,12.5,13.5,14.5,15.5];
const potoMeanAlk=[1.47,1.24,1.26,1.28,1.3,1.33,1.36,1.38,1.42,1.48,1.48,1.53,1.57,1.6,1.6,1.62];
const potoMeanAau=[.17,.47,.49,.45,.47,.45,.42,.38,.35,.27,.27,.22,.17,.17,.13,.13];

const rappAlk=[[.05,[.15,.3,.42,.55,.68]],[.3,[.22,.35,.48,.6,.72]],[.7,[.28,.42,.55,.68]],[1.1,[.3,.42,.55,.68]],[1.5,[.35,.48,.6]],[1.9,[.38,.5,.62,.7]],[2.3,[.42,.55,.68,.78]],[2.7,[.42,.55,.68,.8]],[3.1,[.45,.58,.7,.82]],[3.5,[.5,.62,.75,.85]],[3.9,[.42,.55,.68,.8]],[4.3,[.55,.68,.8,.88]],[4.7,[.58,.7,.82]],[5.1,[.55,.68,.8,.9]],[5.5,[.62,.75,.85,.9]],[5.9,[.62,.75,.88,1]],[6.3,[.68,.8,.92,1.02,1.15]],[6.7,[.72,.85,.98,1.1,1.18]],[7.1,[.65,.78,.9,1.02,1.15]],[7.5,[.72,.85,.98,1.1,1.12]],[7.9,[.82,.95,1.08,1.18]],[8.3,[.8,.92,1.05,1.18]],[8.7,[.88,1,1.12,1.22]],[9.1,[.85,.98,1.1,1.2,1.35]],[9.5,[.95,1.08,1.2,1.3]],[9.9,[.9,1.02,1.15,1.28,1.35]],[10.3,[1,1.12,1.25,1.38]],[10.7,[.95,1.08,1.2,1.33,1.4]],[11.1,[1.1,1.22,1.35,1.42]],[11.5,[1.05,1.18,1.3,1.42]],[11.9,[1,1.12,1.25,1.38,1.48]],[12.3,[1,1.1,1.22,1.32,1.43]],[12.7,[1.15,1.27,1.4,1.55]],[13,[1.12,1.25,1.38,1.5]],[13.3,[1.2,1.32,1.45,1.62]],[13.9,[1.15,1.3,1.42,1.52]],[14.2,[1.2,1.35,1.48,1.6]],[14.6,[1.25,1.38,1.5,1.65]],[15,[1.25,1.4,1.55,1.72]],[15.4,[1.15,1.28,1.4,1.55]],[15.7,[.17,1.3,1.5,1.62]],[16.1,[1.35,1.5,1.62]],[16.5,[1.45,1.58,1.68]],[16.8,[1.45,1.6,1.87]],[17.3,[1.48,1.62,1.7]],[17.7,[1.52,1.65,1.78]],[18,[1.55,1.7,1.8,1.98]],[18.4,[1.55,1.72,1.8]],[18.6,[1.4,1.5,1.65]],[18.8,[1.6,1.75,1.98]],[19.1,[1.68]],[20,[1.73]],[20.3,[1.73]]];
const rappAau=[[.05,[-.28,-.15,-.02,.12,.25]],[.3,[-.3,-.18,-.05,.08,.2,.3]],[.7,[-.3,-.15,0,.12,.3]],[1.1,[-.3,-.15,0,.15]],[1.5,[-.1,.03,.17]],[1.9,[-.12,0,.15,.25]],[2.3,[-.25,-.1,.03,.18,.32]],[2.7,[-.12,0,.15,.22]],[3.1,[-.25,-.1,.03,.15]],[3.5,[-.1,.05,.12,.3]],[3.9,[-.15,-.02,.1,.25]],[4.3,[-.18,-.05,.08,.22,.35]],[4.7,[-.1,.02,.15]],[5.1,[-.05,.08,.18]],[5.5,[-.08,.05,.15]],[5.9,[-.12,0,.15]],[6.3,[-.2,-.05,.08,.15]],[6.6,[-.32,-.15,0,.1]],[7,[-.12,0,.1,.38]],[7.4,[-.15,-.02,.1,.2]],[7.8,[-.2,-.05,.08,.25]],[8.2,[-.25,-.1,.03]],[8.6,[-.28,-.12,0,.32]],[9,[-.25,-.1,.03,.15]],[9.5,[-.35,-.18,-.03,.1]],[9.9,[-.2,-.05,.1,.18]],[10.3,[-.2,-.05,.08,.15]],[10.8,[-.25,-.1,.03,.12]],[11.2,[-.28,-.12,0,.12]],[11.6,[-.2,-.08,.05,.15]],[12,[-.25,-.1,.03,.1]],[12.4,[-.15,0,.12,.3]],[12.8,[-.18,-.05,.08,.2]],[13.2,[-.12,0,.1,.22]],[13.7,[-.3,-.12,.02,.15]],[14,[-.15,0,.15,.3]],[14.4,[-.15,-.02,.1,.2]],[14.8,[-.2,-.05,.08,.18]],[15.2,[-.18,-.02,.1,.18]],[15.7,[-.2,-.05,.08,.18,1.27]],[16.1,[-.2,-.05,.08]],[16.6,[-.1,0,.1]],[16.8,[-.35,-.12]],[17.2,[-.1,.02,.12]],[17.7,[-.15,0,.08]],[18,[-.4,-.15,0]],[18.4,[-.12,.05,.1,.25]],[18.8,[-.35,-.08,.08]],[19.2,[-.02,.02]],[20,[0]],[20.3,[.02]]];
const rappMeanS=[.5,1.5,2.5,3.5,4.5,5.5,6.5,7.5,8.5,9.5,10.5,11.5,12.5,13.5,14.5,15.5,16.5,17.5,18.5];
const rappMeanAlk=[.42,.48,.57,.65,.68,.76,.89,.9,1.04,1.08,1.18,1.28,1.25,1.32,1.43,1.4,1.54,1.6,1.7];
const rappMeanAau=[0,.03,.04,-.01,.02,.02,-.04,.02,-.07,-.04,-.05,-.07,.01,-.02,-.04,.02,-.03,-.03,-.05];

const yorkGreyAlk=[[1.5,[.45]],[3.1,[.8,.7]],[3.5,[.5]],[4,[.6,.95]],[4.4,[.98,.7]],[6.5,[.75]],[6.9,[1.22,.9]],[7.4,[1,1.2]],[8.1,[1.05]],[8.7,[1.2]],[9,[1.02,1.05]],[9.4,[1,1.03]],[9.8,[1.02]],[10.2,[1.05]],[10.6,[1.05,1.1]],[11,[1.03]],[11.4,[1.28,1.2]],[11.9,[1.18]],[12.4,[1.3]],[13,[1.3,1.22]],[13.4,[1.42,1.25]],[13.8,[1.35,1.5]],[14.2,[1.28,1.4,1.55]],[14.6,[1.55,1.35]],[15,[1.62,1.45]],[15.4,[1.62,1.35]],[15.8,[1.45]],[16.1,[1.58]],[16.6,[1.48,1.42]],[16.8,[.78]],[17.2,[1.4,1.55]],[17.5,[1.8,1.5,1.65]],[17.9,[1.78,1.65]],[18.3,[1.55,1.65]],[18.7,[1.8,1.55,1.7]],[19,[1.9,1.6]],[19.4,[1.7,1.65]],[19.8,[1.82,1.7]],[20.2,[1.72,1.68]],[20.6,[1.8,1.72]],[21,[1.85,1.75]],[21.5,[1.75]],[21.9,[1.95,1.78]],[22.2,[1.85]],[22.6,[1.9,1.85]],[23,[1.97,1.85]],[23.2,[1.9]],[23.6,[1.8]],[23.9,[1.88]]];
const yorkGreenAlk=[[.05,[.02,.1,.2,2.83]],[.9,[.22]],[1.2,[.3]],[1.5,[.35]],[2.1,[.35,.1]],[2.4,[.2,.25]],[2.7,[.55,.4,.45]],[3,[.55,.45]],[3.4,[.5]],[3.6,[.85]],[4.1,[.75,.65]],[4.5,[.6,.7]],[5,[.65]],[5.2,[.95,.6]],[5.9,[.98,.7]],[6,[.6,.55]],[6.2,[.75]],[6.9,[1.1,.85]],[7.1,[.7]],[7.6,[.85]],[8.2,[1.1]],[8.6,[1.1]],[9.9,[1.3,1.15]],[10.2,[1.15]],[10.6,[1.22,1.15]],[10.9,[1.1,1.4]],[11.2,[1.58]],[12.7,[1.52]],[13.6,[1.55]],[15.2,[1.55]]];
const yorkSkyAlk=[[.05,[.1,.2,.3,.4,.5,.6,.7,.8]],[.2,[.2,.35,.5,.65,.82]],[.4,[.3,.45,.6]],[.8,[.45,.55]],[1.2,[.4,.65,.55]],[1.7,[.5,.45]],[2.2,[.72,.5]],[2.6,[.6,.5]],[3,[.58,.6]],[3.9,[.8,.85]],[4.3,[.88,.95]],[4.7,[.75,.72]],[5.6,[.85,.8]],[6,[.9,.85]],[6.4,[.95,.85]],[7.3,[.95,.9]],[7.6,[1.3]],[7.9,[1.2]],[8.4,[1.2]],[8.7,[.15,1.22]],[9,[1.1,1.22]],[9.3,[1.15,1.28]],[9.7,[1.3,1.2]],[10,[1.4,1.25]],[10.4,[1.22]],[10.7,[1.25]],[11,[1.45]]];
const yorkGreyAau=[[1.5,[-.02]],[3.1,[-.35]],[3.3,[-.05]],[3.7,[-.25]],[4.4,[-.45]],[5.5,[-.1]],[6,[-.15]],[6.8,[-.5]],[7,[-.2]],[7.5,[-.25]],[8,[-.1]],[8.3,[-.3]],[8.9,[-.1,-.05]],[9.5,[.03,-.1]],[10.1,[-.05,-.12]],[10.6,[-.03,-.15]],[11.1,[-.3]],[11.4,[-.22]],[11.8,[-.15]],[12.2,[-.1]],[12.7,[-.1]],[13,[-.05]],[13.4,[.03,-.15]],[13.8,[-.1,-.3]],[14.3,[-.2,-.05]],[14.8,[-.25,-.3]],[15.2,[-.08,-.2]],[15.6,[-.1]],[16.1,[-.15]],[16.7,[.75,.03]],[17.2,[-.1,-.18]],[17.6,[.03,-.15,-.25]],[18,[-.05,-.2]],[18.4,[-.25,.03]],[18.8,[-.05,-.25]],[19.2,[-.1,.03]],[19.6,[-.05,.03]],[20,[.02,-.1]],[20.5,[-.08,.03]],[21,[.05,-.12]],[21.5,[.05]],[22,[-.08,.02]],[22.5,[.04,-.1]],[23,[.05,-.08]],[23.6,[.15]],[24,[.05]]];
const yorkGreenAau=[[.05,[-.05,.05]],[.9,[-.1]],[1.2,[-.15]],[2.2,[.2]],[2.5,[.1,-.1]],[2.7,[-.3,0]],[3.4,[-.1]],[3.6,[-.38]],[5,[-.1]],[5.2,[-.12]],[5.6,[-.15]],[6,[.13,-.38]],[6.2,[-.12]],[6.9,[-.3]],[7.1,[-.22,.02]],[7.6,[-.1]],[8,[-.1]],[8.2,[-.28]],[9.6,[-.42]],[10,[-.35,-.28]],[10.4,[-.2,-.3]],[10.7,[-.32,-.15]],[11.2,[-.57]],[12.7,[-.38]],[13.6,[-.32]],[15.2,[-.22]]];
const yorkSkyAau=[[.05,[-.6,-.4,-.25,-.1,.05,.2,.3,.42]],[.2,[-.55,-.3,-.15,0,.15,.35]],[.3,[-.5]],[.8,[-.1,-.2]],[1.2,[-.2,-.12]],[1.8,[-.05]],[2.2,[-.05]],[2.8,[.1,-.22]],[3.2,[-.08,-.12]],[3.9,[-.1]],[4.1,[-.15,-.32]],[4.7,[.07,-.12]],[5.6,[-.1]],[6,[-.12]],[6.4,[.05,-.25]],[7.1,[-.12]],[7.6,[-.52]],[7.8,[-.22]],[8.5,[-.2]],[8.7,[1.08,-.18]],[9,[-.2,-.12]],[9.3,[-.18,-.1]],[9.6,[-.12,-.08,.03]],[10,[-.38]],[10.7,[-.12,-.25]]];
const yorkMeanS=[.5,.5,13.5,14.5,21.5];
const yorkMeanAlk=[.2,.42,1.35,1.47,1.83];
const yorkMeanAauS=[.5,13.5,14.5,21.5];
const yorkMeanAau=[-.03,-.08,-.13,-.03];

const jamesAlk=[[.05,[.2,.32,.44,.56,.68,.8,.92,1.04,1.16,1.28,1.4,1.52,1.62]],[.25,[.25,.38,.5,.62,.75,.88,1,1.12,1.25,1.38,1.5]],[.5,[.3,.62,.78,.92,1.05,1.15]],[.7,[.55,.7,.85,1,1.12,1.53]],[1,[.58,.72,.88,1.02,1.15]],[1.4,[.75,.9,1.02,1.2]],[1.7,[.85,1,1.12,1.25]],[2.1,[.8,.95,1.08,1.2]],[2.4,[.72,.88,1,1.12,1.18]],[2.7,[.8,.95,1.08,1.22,1.35]],[3,[.92,1.05,1.15,1.3]],[3.4,[.85,.98,1.12,1.02]],[3.8,[.9,1.02,1.12]],[4.3,[.92,1,1.1]],[4.8,[.95,1.1]],[5.6,[1.05,1.08]],[5.9,[1.05,1.3,1.25]],[6.1,[1]],[6.2,[.13,1.25]],[6.4,[.92,1.2]],[6.6,[1.25]],[7.4,[1.1]],[7.7,[1.1,1,.88,1.25]],[8,[1.15,1.25]],[8.4,[1.2,1.15]],[8.8,[1.05,1.1]],[9.3,[1.1,1.18]],[9.9,[1.2,.9]],[10.2,[1.25]],[10.5,[.95,1.2]],[11,[1.15]],[11.3,[1.2,1.32]],[11.7,[1.3,1.2]],[12,[.98,1.3]],[12.6,[1.25,1.38,1.3]],[12.8,[1.55,1.4]],[13.2,[1.35,1.38]],[13.6,[1.38,1.42]],[14,[1.4,1.45]],[14.3,[1.38,1.45]],[14.8,[1.3,1.42]],[15.2,[1.4,1.3,1.5]],[15.5,[1.62,1.45]],[16,[1.5,1.42]],[16.6,[1.45,1.55]],[17.3,[1.3,1.6,1.48]],[17.9,[1.48,1.58]],[18.3,[1.52,1.62]],[18.8,[1.13,1.65,1.5]],[19.2,[1.6,2]],[19.5,[1.85,1.75]],[20,[1.6,1.7,1.85]],[20.6,[1.4,1.85,1.7]],[21.2,[1.6,1.8]],[21.6,[1.35,1.82]],[22.2,[1.75,1.95]],[22.6,[1.7,1.85]],[22.9,[1.47,1.9]],[23.3,[1.85]],[23.6,[1.87]],[24.6,[1.92]],[24.8,[1.97]]];
const jamesAau=[[.05,[-.45,-.32,-.2,-.08,.05,.18,.3,.42,.55,.68,.85]],[.25,[-.35,-.2,-.05,.1,.25,.4,.55]],[.6,[-.58,-.1,.05,.2,.35,.5]],[1,[-.12,.02,.17,.32,.5]],[1.5,[-.1,.05,.2,.35,.52]],[1.8,[.02,.15,.3,.45,.6]],[2.2,[.05,.2,.35,.5,-.15]],[2.5,[.08,.22,.4,.55]],[3,[.12,.3,.45]],[3.3,[.15,.3,.5]],[3.7,[.1,.25,.4]],[4.1,[.2,.35,.62,.5]],[4.6,[.05,.22,.38,.5]],[5.7,[.02,-.05]],[6,[.47,-.1]],[6.2,[1.5,.05]],[6.4,[.08,-.15]],[6.6,[.1,-.15]],[7.4,[.2,.1,.35]],[7.7,[.72,.05,.3,-.1]],[8,[.1,.4,.2]],[8.3,[.3,.15]],[8.8,[.1,.02]],[9.2,[.42,.1]],[9.6,[.32,.2,.03]],[9.9,[.1,.35]],[10.5,[.7,.1]],[11,[.05,.15]],[11.5,[.1,.2]],[11.8,[.35,-.1]],[12.1,[.38,.05]],[12.6,[-.05,.22,.1]],[13.2,[.03,.12]],[13.6,[.08,.02]],[14,[.32,.05,.1]],[14.4,[.05,.12]],[14.9,[.2,.05,.02]],[15.4,[-.12,.22,.08]],[16,[.1,.02,.18]],[16.6,[.12,.02]],[17.3,[.42,.05,.25]],[17.8,[.2,.1]],[18.3,[.05,.2]],[18.8,[.52,.08,.15]],[19.2,[-.3,-.18,.12]],[19.5,[-.25,.08]],[20,[.05,.02,-.05]],[20.6,[.32,.02,-.05]],[21.2,[.1,-.02]],[21.6,[.38,.02]],[22.3,[-.12,-.08]],[22.6,[-.03,.1]],[23,[.25,-.08]],[23.2,[.15,-.1]],[23.6,[-.1]],[24.6,[-.12]],[24.8,[-.22]]];
const jamesMeanS=[.5,1.5,2.5,3.5,4.5,7.5,9.5,11.5,15.5,16.5,18.5,19.5,20.5,21.5];
const jamesMeanAlk=[.88,.95,1.01,.98,1.02,1.1,1.2,1.29,1.48,1.53,1.55,1.7,1.72,1.72];
const jamesMeanAau=[.12,.27,.25,.27,.35,.24,.15,.13,.07,.08,.12,0,.01,.02];

const xTickLabels=[0,5,10,15,20,25];
const alkTicks=[0,2,4];
const aauTicks=[-2,0,2];
const chesterAauTicks=[-1,0,1,2];
const zeroLine=[[0,0],[25,0]];

const grey='#7f7f7f',blue='#0072bd',orange='#d95319',yellow='#edb120',purple='#7e2f8e',lgrey='#b3b3b3',green='#77ac30',sky='#4dbeee',dred='#a2142f';

const flat=c=>c.flatMap(([s,v])=>v.map(y=>[s,y]));
const means=(s,v)=>s.map((x,i)=>[x,v[i]]);
const patuxAlkAll=patuxAlk.concat(patuxAlkDense),patuxAauAll=patuxAau.concat(patuxAauDense);
const potoAlkAll=potoAlk.concat(potoAlkDense),potoAauAll=potoAau.concat(potoAauDense);

const tops=[15,188,361,536,709,883,1056,1231];
const bottoms=[135,307,482,655,830,1002,1177,1351];
const lefts=[67,503.3],widths=[334.5,326.7];

const allAlk=[[potoAlkAll,yellow],[rappAlk,purple],[patuxAlkAll,orange],[chesterAlk,grey],[susqAlk,blue],[jamesAlk,dred],[yorkGreyAlk,lgrey],[yorkGreenAlk,green],[yorkSkyAlk,sky]];
const allAau=[[potoAauAll,yellow],[rappAau,purple],[patuxAauAll,orange],[chesterAau,grey],[susqAau,blue],[jamesAau,dred],[yorkGreyAau,lgrey],[yorkGreenAau,green],[yorkSkyAau,sky]];

const panels=[
 {t:'(a) Chester',d:[[chesterAlk,grey]],m:means(chesterMeanS,chesterMeanAlk),col:0,row:0,e:398},
 {t:'(b) Susquehanna',d:[[susqAlk,blue]],m:means(susqMeanS,susqMeanAlk),col:0,row:1,e:397},
 {t:'(c) Patuxent',d:[[patuxAlkAll,orange]],m:means(patuxMeanS,patuxMeanAlk),col:0,row:2,e:395},
 {t:'(d) Potomac',d:[[potoAlkAll,yellow]],m:means(potoMeanS,potoMeanAlk),col:0,row:3,e:395},
 {t:'(e) Rappahannock',d:[[rappAlk,purple]],m:means(rappMeanS,rappMeanAlk),col:0,row:4,e:397},
 {t:'(f) York',d:[[yorkGreyAlk,lgrey],[yorkGreenAlk,green],[yorkSkyAlk,sky]],m:means(yorkMeanS,yorkMeanAlk),col:0,row:5,e:397},
 {t:'(g) James',d:[[jamesAlk,dred]],m:means(jamesMeanS,jamesMeanAlk),col:0,row:6,e:397},
 {t:'(h) All',d:allAlk,m:null,col:0,row:7,e:397},
 {t:'(i) Chester',d:[[chesterAau,grey]],m:means(chesterMeanS,chesterMeanAau),col:1,row:0,e:826,z:1},
 {t:'(j) Susquehanna',d:[[susqAau,blue]],m:means(susqMeanS,susqMeanAau),col:1,row:1,e:826,z:1},
 {t:'(k) Patuxent',d:[[patuxAauAll,orange]],m:means(patuxMeanS,patuxMeanAau),col:1,row:2,e:825,z:1},
 {t:'(l) Potomac',d:[[potoAauAll,yellow]],m:means(potoMeanS,potoMeanAau),col:1,row:3,e:824,z:1},
 {t:'(m) Rappahannock',d:[[rappAau,purple]],m:means(rappMeanS,rappMeanAau),col:1,row:4,e:824,z:1},
 {t:'(n) York',d:[[yorkGreyAau,lgrey],[yorkGreenAau,green],[yorkSkyAau,sky]],m:means(yorkMeanAauS,yorkMeanAau),col:1,row:5,e:826,z:1},
 {t:'(o) James',d:[[jamesAau,dred]],m:means(jamesMeanS,jamesMeanAau),col:1,row:6,e:824,z:1},
 {t:'(p) All',d:allAau,m:null,col:1,row:7,e:825}
];

const grid=[],xAxis=[],yAxis=[],series=[],graphic=[];
const FF='"Liberation Sans",Helvetica,Arial,sans-serif';
const axLine={show:true,onZero:false,lineStyle:{color:'#262626',width:1}};
const tick={show:true,inside:true,length:4,lineStyle:{color:'#262626',width:1}};
const split={show:true,lineStyle:{color:'#e6e6e6',width:1}};

panels.forEach((p,i)=>{
  grid.push({left:lefts[p.col],width:widths[p.col],top:tops[p.row],height:bottoms[p.row]-tops[p.row],containLabel:false});
  let ymin=p.col?-2:0,ymax=p.col?2:4,yt=p.col?aauTicks:alkTicks;
  if(i===8){ymin=-1.95;ymax=2.05;yt=chesterAauTicks;}
  const xa={type:'value',gridIndex:i,min:0,max:25,interval:5,axisLine:axLine};
  const ya={type:'value',gridIndex:i,min:ymin,max:ymax,axisLine:axLine};
  const yTick={...tick,customValues:yt};
  xAxis.push({...xa,position:'bottom',axisTick:tick,splitLine:split,
    axisLabel:{show:true,color:'#262626',fontSize:16,fontFamily:FF,margin:11,showMinLabel:true,showMaxLabel:true,hideOverlap:false,customValues:xTickLabels}});
  xAxis.push({...xa,position:'top',axisTick:tick,splitLine:{show:false},axisLabel:{show:false}});
  yAxis.push({...ya,position:'left',axisTick:yTick,splitLine:split,
    axisLabel:{show:true,color:'#262626',fontSize:16,fontFamily:FF,margin:5,padding:[2,0,0,0],hideOverlap:false,customValues:yt}});
  yAxis.push({...ya,position:'right',axisTick:yTick,splitLine:{show:false},axisLabel:{show:false}});
  const xi=2*i,yi=2*i;
  p.d.forEach(([cols,color],k)=>series.push({type:'scatter',xAxisIndex:xi,yAxisIndex:yi,data:flat(cols),symbolSize:5.8,silent:true,
    itemStyle:{color,opacity:1},z:2+k*0.01,clip:false,animation:false}));
  if(p.z)series.push({type:'line',xAxisIndex:xi,yAxisIndex:yi,data:zeroLine,symbol:'none',silent:true,lineStyle:{color:'#000',width:1},z:3,animation:false});
  if(p.m)series.push({type:'scatter',xAxisIndex:xi,yAxisIndex:yi,data:p.m,symbolSize:10.5,silent:true,
    itemStyle:{color:'#00ffff',borderColor:'#000',borderWidth:1.5,opacity:1},z:4,animation:false});
  graphic.push({type:'text',x:p.e,y:tops[p.row]+17.5,z:100,silent:true,style:{text:p.t,fill:'#000',font:'26px '+FF,textAlign:'right',textVerticalAlign:'middle'}});
});

const axisTexts=[
 ['Alkalinity, mol m',33,608,26],['-3',21,500.5,20],
 ['AAU, mol m',463,607.5,26],['-3',450,527,20]
];
axisTexts.forEach(([text,x,y,size])=>graphic.push({type:'text',x,y,rotation:Math.PI/2,z:100,silent:true,
  style:{text,fill:'#262626',font:size+'px '+FF,textAlign:'center',textVerticalAlign:'middle'}}));
graphic.push({type:'text',x:233,y:1399,z:100,silent:true,style:{text:'S, ppt',fill:'#262626',font:'26px '+FF,textAlign:'center',textVerticalAlign:'middle'}});
graphic.push({type:'text',x:665,y:1399,z:100,silent:true,style:{text:'S, ppt',fill:'#262626',font:'26px '+FF,textAlign:'center',textVerticalAlign:'middle'}});

const chart=echarts.init(document.getElementById('c'),null,{renderer:'canvas'});
chart.setOption({animation:false,backgroundColor:'#fff',grid,xAxis,yAxis,series,graphic});
</script></body></html>
